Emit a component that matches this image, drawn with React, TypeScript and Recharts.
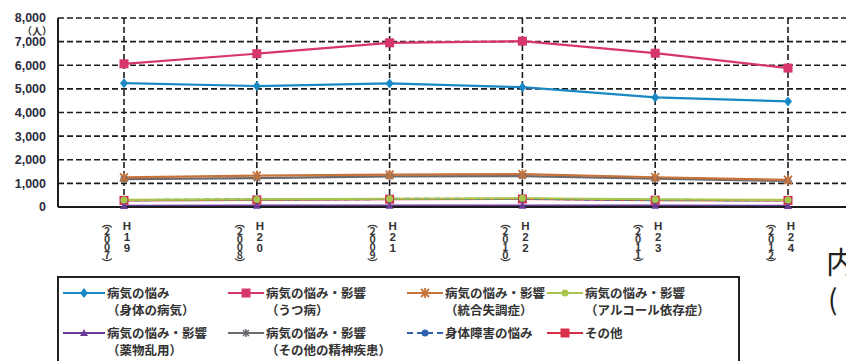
import { LineChart, Line, XAxis, YAxis, CartesianGrid } from 'recharts'

// 年度（和暦・西暦）
const eras = ['H19', 'H20', 'H21', 'H22', 'H23', 'H24']
const years = ['2007', '2008', '2009', '2010', '2011', '2012']

// 原因・動機別の人数
const bodyIllness = [5240, 5120, 5230, 5070, 4640, 4470]
const depression = [6060, 6490, 6950, 7020, 6510, 5880]
const schizophrenia = [1250, 1330, 1370, 1390, 1260, 1150]
const alcohol = [300, 320, 350, 370, 320, 300]
const drugAbuse = [45, 50, 55, 55, 50, 45]
const otherMental = [1180, 1220, 1300, 1310, 1200, 1100]
const disability = [290, 320, 340, 350, 300, 290]
const others = [280, 300, 330, 340, 290, 280]

const yTicks = [0, 1000, 2000, 3000, 4000, 5000, 6000, 7000, 8000]

type Shape = 'diamond' | 'square' | 'cross' | 'circle' | 'triangle' | 'star'

// drawing order: later entries are painted on top
const series: { key: string; name: string[]; values: number[]; color: string; shape: Shape; dashed?: boolean }[] = [
  { key: 'others', name: ['その他'], values: others, color: '#d8304a', shape: 'square' },
  { key: 'disability', name: ['身体障害の悩み'], values: disability, color: '#2f62b0', shape: 'circle', dashed: true },
  { key: 'drugAbuse', name: ['病気の悩み・影響', '（薬物乱用）'], values: drugAbuse, color: '#6a3c98', shape: 'triangle' },
  { key: 'alcohol', name: ['病気の悩み・影響', '（アルコール依存症）'], values: alcohol, color: '#a8c64c', shape: 'circle' },
  { key: 'otherMental', name: ['病気の悩み・影響', '（その他の精神疾患）'], values: otherMental, color: '#6a6a70', shape: 'star' },
  { key: 'schizophrenia', name: ['病気の悩み・影響', '（統合失調症）'], values: schizophrenia, color: '#c8733a', shape: 'cross' },
  { key: 'bodyIllness', name: ['病気の悩み', '（身体の病気）'], values: bodyIllness, color: '#1a88c4', shape: 'diamond' },
  { key: 'depression', name: ['病気の悩み・影響', '（うつ病）'], values: depression, color: '#d6366c', shape: 'square' },
]

// legend order (4 columns x 2 rows)
const legendOrder = ['bodyIllness', 'depression', 'schizophrenia', 'alcohol', 'drugAbuse', 'otherMental', 'disability', 'others']

const data = eras.map((era, i) => {
  const row: Record<string, string | number> = { era, year: years[i] }
  series.forEach((s) => { row[s.key] = s.values[i] })
  return row
})

function marker(shape: Shape, color: string, cx: number, cy: number, key?: number) {
  switch (shape) {
    case 'diamond':
      return <path key={key} d={`M${cx},${cy - 5}L${cx + 4},${cy}L${cx},${cy + 5}L${cx - 4},${cy}Z`} fill={color} />
    case 'square':
      return <rect key={key} x={cx - 4.5} y={cy - 4.5} width={9} height={9} fill={color} />
    case 'circle':
      return <circle key={key} cx={cx} cy={cy} r={3.5} fill={color} />
    case 'triangle':
      return <path key={key} d={`M${cx},${cy - 4}L${cx + 4},${cy + 3}L${cx - 4},${cy + 3}Z`} fill={color} />
    case 'star':
      return <path key={key} d={`M${cx - 4},${cy}L${cx + 4},${cy}M${cx},${cy - 4}L${cx},${cy + 4}M${cx - 3},${cy - 3}L${cx + 3},${cy + 3}M${cx + 3},${cy - 3}L${cx - 3},${cy + 3}`} stroke={color} strokeWidth={1.5} fill="none" />
    case 'cross':
    default:
      return <path key={key} d={`M${cx - 4},${cy - 4}L${cx + 4},${cy + 4}M${cx + 4},${cy - 4}L${cx - 4},${cy + 4}M${cx},${cy - 5}L${cx},${cy + 5}`} stroke={color} strokeWidth={1.8} fill="none" />
  }
}

const dotFor = (shape: Shape, color: string) => (props: any) => {
  if (props.cx == null || props.cy == null) return <g key={props.index} />
  return marker(shape, color, props.cx, props.cy, props.index)
}

const tickFont = '"Liberation Sans", Arial, sans-serif'
const jpFont = '"Noto Sans CJK JP", sans-serif'

// vertical tick: era on the right column, year in parentheses on the left
function YearTick(props: any) {
  const { x, y, payload, index } = props
  const vertical = { writingMode: 'vertical-rl', textOrientation: 'upright' } as any
  return (
    <g>
      <text x={x + 3} y={y + 13} fontSize={11.5} letterSpacing={-1.2} fontWeight="bold" fill="#333" fontFamily={tickFont} style={vertical}>
        {payload.value}
      </text>
      <text x={x - 17} y={y + 11} fontSize={10.5} letterSpacing={-2.6} fontWeight="bold" fill="#3a3a3a" fontFamily={jpFont} style={vertical}>
        {`（${years[index]}）`}
      </text>
    </g>
  )
}

const legendCols = [63, 228, 407, 547]
const legendRows = [293, 333]

export default function App() {
  return (
    <div style={{ position: 'absolute', left: 0, top: 0, width: 846, height: 361, overflow: 'hidden', background: '#fff' }}>
      <LineChart width={900} height={361} data={data} margin={{ top: 18, right: 46, left: 0, bottom: 94 }}>
        <CartesianGrid stroke="#1c1c1c" strokeWidth={1.6} strokeDasharray="6 3" />
        <XAxis
          dataKey="era"
          height={60}
          tickLine={false}
          tickSize={0}
          tickMargin={0}
          padding={{ left: 66, right: 66 }}
          axisLine={{ stroke: '#1c1c1c', strokeWidth: 2 }}
          tick={<YearTick />}
          interval={0}
        />
        <YAxis
          width={58}
          domain={[0, 8000]}
          ticks={yTicks}
          tickLine={false}
          tickSize={10}
          tickMargin={2}
          axisLine={{ stroke: '#1c1c1c', strokeWidth: 2 }}
          tick={{ fontSize: 12.5, fontWeight: 'bold', fill: '#2c2c3c', fontFamily: tickFont }}
          tickFormatter={(v: number) => v.toLocaleString('en-US')}
        />
        {series.map((s) => (
          <Line
            key={s.key}
            dataKey={s.key}
            stroke={s.color}
            strokeWidth={s.key === 'drugAbuse' ? 2.5 : 2.2}
            strokeDasharray={s.dashed ? '6 4' : undefined}
            dot={dotFor(s.shape, s.color)}
            activeDot={false}
            isAnimationActive={false}
          />
        ))}
      </LineChart>

      <div style={{ position: 'absolute', left: 22, top: 26, fontSize: 10, lineHeight: '10px', fontWeight: 'bold', color: '#333', fontFamily: jpFont }}>（人）</div>

      <div style={{ position: 'absolute', left: 57, top: 276, width: 683, height: 100, border: '2px solid #222', boxSizing: 'border-box' }} />
      {legendOrder.map((k, i) => {
        const s = series.find((d) => d.key === k)!
        const lx = legendCols[i % 4]
        const ly = legendRows[Math.floor(i / 4)]
        const lineLen = i % 4 === 0 ? 42 : 36
        return (
          <div key={k}>
            <svg style={{ position: 'absolute', left: lx, top: ly - 6 }} width={lineLen} height={12}>
              <line x1={0} y1={6} x2={lineLen} y2={6} stroke={s.color} strokeWidth={2.2} strokeDasharray={s.dashed ? '6 4' : undefined} />
              {marker(s.shape, s.color, lineLen / 2, 6)}
            </svg>
            <div style={{ position: 'absolute', left: lx + lineLen + 2, top: ly - 9, fontSize: 12.5, lineHeight: '17px', fontWeight: 'bold', color: '#333', fontFamily: jpFont, whiteSpace: 'nowrap' }}>
              {s.name.map((t, j) => (<div key={j}>{t}</div>))}
            </div>
          </div>
        )
      })}

      <div style={{ position: 'absolute', left: 826, top: 238, fontSize: 30, color: '#222', fontFamily: jpFont }}>内</div>
      <div style={{ position: 'absolute', left: 828, top: 278, fontSize: 28, color: '#222', fontFamily: jpFont }}>(</div>
    </div>
  )
}
